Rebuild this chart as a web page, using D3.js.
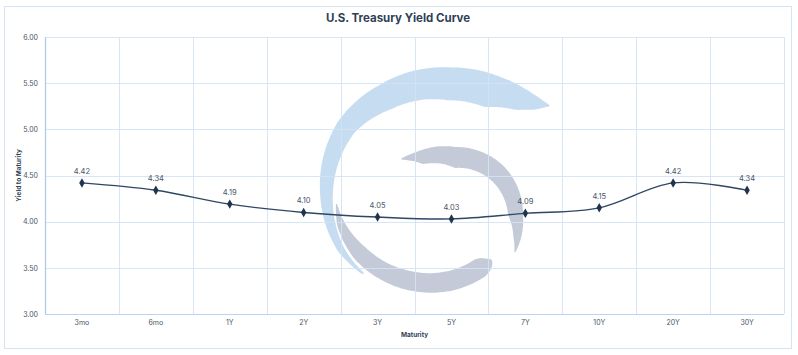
<!DOCTYPE html>
<html><head><meta charset="utf-8">
<script src="https://cdn.jsdelivr.net/npm/d3@7"></script>
<style>html,body{margin:0;padding:0;background:#fff}svg{display:block}</style>
</head><body>
<svg id="chart" width="798" height="355"></svg>
<script>
const categories = ["3mo","6mo","1Y","2Y","3Y","5Y","7Y","10Y","20Y","30Y"];
const yields = [4.42,4.34,4.19,4.10,4.05,4.03,4.09,4.15,4.42,4.34];
const yTicks = [3.00,3.50,4.00,4.50,5.00,5.50,6.00];
const title = "U.S. Treasury Yield Curve";
const xTitle = "Maturity";
const yTitle = "Yield to Maturity";

const W = 798, H = 355;
const m = {left:45, right:14, top:37, bottom:41};
const svg = d3.select("#chart");
const font = "Inter, 'Noto Sans', sans-serif";

svg.append("rect").attr("x",4.5).attr("y",6.5).attr("width",787).attr("height",342)
  .attr("fill","#fff").attr("stroke","#d5e3f2").attr("stroke-width",1);

const x = d3.scaleBand().domain(categories).range([m.left, W - m.right]).padding(0);
const y = d3.scaleLinear().domain([3,6]).range([H - m.bottom, m.top]);

// watermark logo (decorative)
function swoosh(cx, cy, keys){
  const a = keys.map(k=>k[0]);
  const ro = d3.scaleLinear().domain(a).range(keys.map(k=>k[1]));
  const ri = d3.scaleLinear().domain(a).range(keys.map(k=>k[2]));
  const n = 160, outer=[], inner=[];
  for(let i=0;i<=n;i++){
    const t = a[0] + (a[a.length-1]-a[0])*i/n;
    const r = t*Math.PI/180;
    outer.push([cx+ro(t)*Math.cos(r), cy+ro(t)*Math.sin(r)]);
    inner.push([cx+ri(t)*Math.cos(r), cy+ri(t)*Math.sin(r)]);
  }
  return d3.line().curve(d3.curveBasisClosed)(outer.concat(inner.reverse()));
}
const wm = svg.append("g");
wm.append("path").attr("fill","#c6dcf0")
  .attr("d", swoosh(440,192,[[-38,140,139],[-41,138,125],[-47,135,112],[-62,130,96],[-85,125,92],[-120,123,96],[-145,124,104],[-180,120,107],[-210,118,111],[-227,113,111]]));
wm.append("path").attr("fill","#c4cad7")
  .attr("d", swoosh(455,215,[[-134,78,77],[-122,74,60],[-90,68,47],[-45,69,50],[0,68,53],[20,70,62],[32,71,70]]));
wm.append("path").attr("fill","#c4cad7")
  .attr("d", swoosh(435,190,[[172,100,99],[160,104,96],[140,106,90],[110,104,85],[80,102,82],[60,100,80],[56,98,82],[53,95,86],[51,91,89]]));

// gridlines
const g = svg.append("g");
g.selectAll(".hg").data(yTicks).join("line")
  .attr("x1",m.left).attr("x2",W-m.right)
  .attr("y1",d=>Math.round(y(d))+0.5).attr("y2",d=>Math.round(y(d))+0.5)
  .attr("stroke","#d3e3f5").attr("stroke-width",1).attr("opacity",0.9);
const bounds = categories.map(c=>x(c)).concat([W-m.right]);
g.selectAll(".vg").data(bounds).join("line")
  .attr("x1",d=>Math.round(d)+0.5).attr("x2",d=>Math.round(d)+0.5)
  .attr("y1",m.top).attr("y2",H-m.bottom)
  .attr("stroke","#d3e3f5").attr("stroke-width",1).attr("opacity",0.9);
// left axis line
svg.append("line").attr("x1",m.left+0.5).attr("x2",m.left+0.5).attr("y1",m.top).attr("y2",H-m.bottom)
  .attr("stroke","#a9c8ea").attr("stroke-width",1.2);
svg.append("line").attr("x1",m.left).attr("x2",W-m.right).attr("y1",H-m.bottom+0.5).attr("y2",H-m.bottom+0.5)
  .attr("stroke","#bcd4ee").attr("stroke-width",1);

// y tick labels
const yAxis = d3.axisLeft(y).tickValues(yTicks).tickFormat(d3.format(".2f")).tickSize(0).tickPadding(7);
const ya = svg.append("g").attr("transform",`translate(${m.left},0)`).call(yAxis);
ya.select(".domain").remove();
ya.selectAll("text").attr("font-family",font).attr("font-size",7).attr("fill","#4a5568");

// x tick labels
const xAxis = d3.axisBottom(x).tickSize(0).tickPadding(6);
const xa = svg.append("g").attr("transform",`translate(0,${H-m.bottom})`).call(xAxis);
xa.select(".domain").remove();
xa.selectAll("text").attr("font-family",font).attr("font-size",7).attr("fill","#4a5568");

// line
const pts = categories.map((c,i)=>[x(c)+x.bandwidth()/2, y(yields[i])]);
svg.append("path").attr("d", d3.line().curve(d3.curveCardinal.tension(0))(pts))
  .attr("fill","none").attr("stroke","#2f4764").attr("stroke-width",1.4);
svg.selectAll(".mk").data(pts).join("path")
  .attr("d", d3.symbol().type(d3.symbolDiamond).size(26))
  .attr("transform",d=>`translate(${d[0]},${d[1]})`)
  .attr("fill","#1f344d");
svg.selectAll(".lbl").data(pts).join("text")
  .attr("x",d=>d[0]).attr("y",d=>d[1]-9)
  .attr("text-anchor","middle").attr("font-family",font).attr("font-size",7.5)
  .attr("fill","#4a5568").text((d,i)=>d3.format(".2f")(yields[i]));

// titles
svg.append("text").attr("x",398).attr("y",22).attr("text-anchor","middle")
  .attr("font-family",font).attr("font-weight","bold").attr("font-size",11.5)
  .attr("fill","#2f3f57").text(title);
svg.append("text").attr("x",(m.left+W-m.right)/2).attr("y",337).attr("text-anchor","middle")
  .attr("font-family",font).attr("font-weight","bold").attr("font-size",6.5)
  .attr("fill","#2f3f57").text(xTitle);
svg.append("text").attr("transform",`translate(21,${(m.top+H-m.bottom)/2}) rotate(-90)`)
  .attr("text-anchor","middle")
  .attr("font-family",font).attr("font-weight","bold").attr("font-size",6.5)
  .attr("fill","#2f3f57").text(yTitle);
</script>
</body></html>
